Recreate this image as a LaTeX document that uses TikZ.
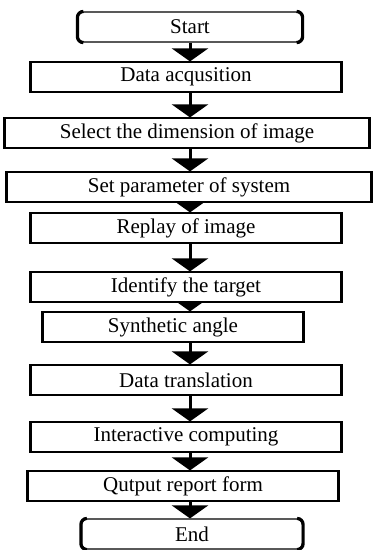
\documentclass[tikz,border=0pt]{standalone}
\usepackage{fontspec}
\setmainfont{Liberation Serif}
\usetikzlibrary{arrows.meta, positioning, backgrounds}

\begin{document}
\begin{tikzpicture}[
    x=1pt, y=-1pt,
    stepbox/.style={
        rectangle, draw, line width=1.2pt, fill=white,
        minimum height=30pt, inner sep=0pt,
        font=\fontsize{21}{24}\selectfont
    },
    termbox/.style={stepbox, rounded corners=6pt},
    side/.style={line width=3.2pt},
    flow/.style={line width=3pt, -{Triangle[width=36pt, length=13pt]}}
]
\useasboundingbox (0,0) rectangle (374,550);

\node[termbox, minimum width=224pt] (start) at (190,27) {Start};
\node[stepbox, minimum width=310pt] (acq) at (186,77) {Data acqusition};
\node[stepbox, minimum width=364pt] (dim) at (187,133) {Select the dimension of image};
\node[stepbox, minimum width=364pt] (param) at (189,187) {Set parameter of system};
\node[stepbox, minimum width=310pt] (replay) at (186,228) {Replay of image};
\node[stepbox, minimum width=310pt] (target) at (186,287) {Identify the target};
\node[stepbox, minimum width=260pt] (angle) at (173,327) {Synthetic angle};
\node[stepbox, minimum width=310pt] (trans) at (186,380) {Data translation};
\node[stepbox, minimum width=310pt] (inter) at (186,437) {Interactive computing};
\node[stepbox, minimum width=310pt] (report) at (183,486) {Qutput report form};
\node[termbox, minimum width=221pt] (end) at (192,534) {End};

% thick left and right sides of the boxes
\foreach \n in {acq, dim, param, replay, target, angle, trans, inter, report}
    \draw[side] (\n.north west) -- (\n.south west) (\n.north east) -- (\n.south east);
\foreach \n in {start, end} {
    \draw[side, rounded corners=6pt] ([xshift=6pt]\n.north west) -- (\n.north west)
        -- (\n.south west) -- ([xshift=6pt]\n.south west);
    \draw[side, rounded corners=6pt] ([xshift=-6pt]\n.north east) -- (\n.north east)
        -- (\n.south east) -- ([xshift=-6pt]\n.south east);
}

% flow arrows, kept behind the boxes
\begin{scope}[on background layer]
\draw[flow] (start.south -| 190,0) -- (acq.north -| 190,0);
\draw[flow] (acq.south -| 190,0) -- (dim.north -| 190,0);
\draw[flow] (dim.south -| 190,0) -- (param.north -| 190,0);
\draw[flow] (param.south -| 190,0) -- (replay.north -| 190,0);
\draw[flow] (replay.south -| 190,0) -- (target.north -| 190,0);
\draw[flow] (target.south -| 190,0) -- (angle.north -| 190,0);
\draw[flow] (angle.south -| 190,0) -- (trans.north -| 190,0);
\draw[flow] (trans.south -| 190,0) -- (inter.north -| 190,0);
\draw[flow] (inter.south -| 190,0) -- (report.north -| 190,0);
\draw[flow] (report.south -| 190,0) -- (end.north -| 190,0);
\end{scope}

\end{tikzpicture}
\end{document}
